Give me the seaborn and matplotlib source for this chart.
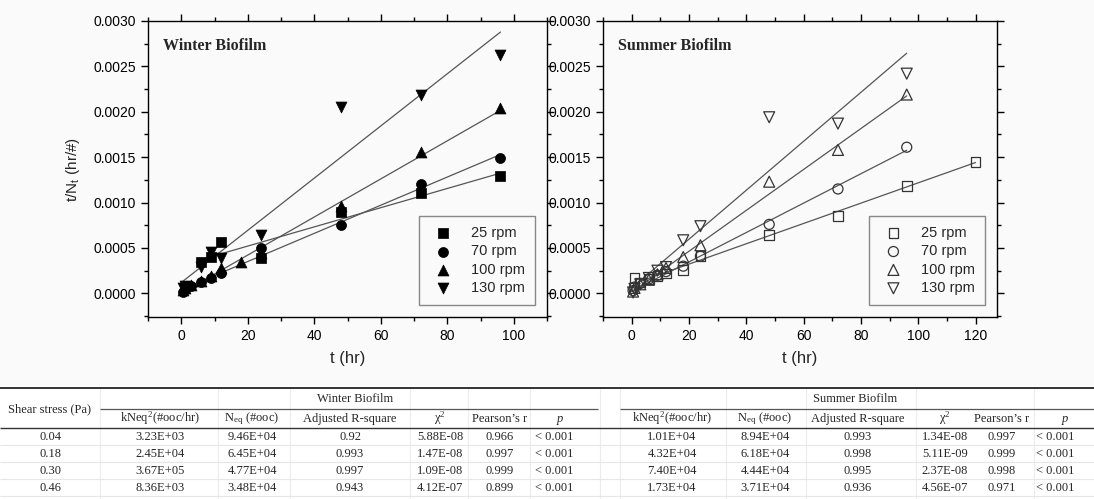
import numpy as np
import matplotlib
matplotlib.use("Agg")
import matplotlib.pyplot as plt
from matplotlib.ticker import MultipleLocator, FormatStrFormatter
import seaborn as sns

# --- data ------------------------------------------------------------
rpm_labels = ["25 rpm", "70 rpm", "100 rpm", "130 rpm"]
markers = ["s", "o", "^", "v"]
marker_sizes = [48, 52, 62, 62]

# winter biofilm, t (hr) and t/Nt (hr/#)
t_w25 = [6, 9, 12, 24, 48, 72, 96]
y_w25 = [3.45e-4, 4.0e-4, 5.7e-4, 3.9e-4, 9.0e-4, 1.11e-3, 1.29e-3]
t_w70 = [0.5, 1, 3, 6, 9, 12, 24, 48, 72, 96]
y_w70 = [2e-5, 5e-5, 8e-5, 1.2e-4, 1.7e-4, 2.2e-4, 5.0e-4, 7.5e-4, 1.2e-3, 1.49e-3]
t_w100 = [0.5, 1, 3, 6, 9, 12, 18, 24, 48, 72, 96]
y_w100 = [4e-5, 6e-5, 9e-5, 1.4e-4, 1.9e-4, 2.8e-4, 3.5e-4, 4.4e-4, 9.6e-4, 1.56e-3, 2.04e-3]
t_w130 = [0.5, 1, 6, 9, 12, 24, 48, 72, 96]
y_w130 = [6e-5, 8e-5, 2.9e-4, 4.6e-4, 3.9e-4, 6.4e-4, 2.05e-3, 2.19e-3, 2.63e-3]

# summer biofilm
t_s25 = [1, 3, 6, 9, 12, 18, 24, 48, 72, 96, 120]
y_s25 = [1.7e-4, 1.2e-4, 1.6e-4, 1.9e-4, 2.2e-4, 2.6e-4, 4.1e-4, 6.4e-4, 8.5e-4, 1.18e-3, 1.45e-3]
t_s70 = [0.5, 1, 3, 6, 9, 12, 18, 24, 48, 72, 96]
y_s70 = [3e-5, 7e-5, 1.1e-4, 1.6e-4, 2.0e-4, 2.4e-4, 3.0e-4, 4.1e-4, 7.6e-4, 1.15e-3, 1.61e-3]
t_s100 = [0.5, 1, 3, 6, 9, 12, 18, 24, 48, 72, 96]
y_s100 = [2e-5, 6e-5, 1.0e-4, 1.5e-4, 2.1e-4, 2.8e-4, 4.0e-4, 5.3e-4, 1.23e-3, 1.58e-3, 2.19e-3]
t_s130 = [0.5, 1, 3, 6, 9, 12, 18, 24, 48, 72, 96]
y_s130 = [1e-5, 5e-5, 1.0e-4, 1.7e-4, 2.5e-4, 2.9e-4, 5.85e-4, 7.4e-4, 1.94e-3, 1.87e-3, 2.42e-3]

# table values (fit parameters)
shear = ["0.04", "0.18", "0.30", "0.46"]
w_kneq2 = [3.23e3, 2.45e4, 3.67e5, 8.36e3]
w_neq = [9.46e4, 6.45e4, 4.77e4, 3.48e4]
w_adjr2 = ["0.92", "0.993", "0.997", "0.943"]
w_chi2 = [5.88e-8, 1.47e-8, 1.09e-8, 4.12e-7]
w_pearson = ["0.966", "0.997", "0.999", "0.899"]
s_kneq2 = [1.01e4, 4.32e4, 7.40e4, 1.73e4]
s_neq = [8.94e4, 6.18e4, 4.44e4, 3.71e4]
s_adjr2 = ["0.993", "0.998", "0.995", "0.936"]
s_chi2 = [1.34e-8, 5.11e-9, 2.37e-8, 4.56e-7]
s_pearson = ["0.997", "0.999", "0.998", "0.971"]
p_text = "< 0.001"

winter = [(t_w25, y_w25), (t_w70, y_w70), (t_w100, y_w100), (t_w130, y_w130)]
summer = [(t_s25, y_s25), (t_s70, y_s70), (t_s100, y_s100), (t_s130, y_s130)]

# --- figure ----------------------------------------------------------
sns.set_style("ticks")
plt.rcParams["font.family"] = ["Liberation Sans", "DejaVu Sans"]
plt.rcParams["mathtext.fontset"] = "stix"

W, H = 1094, 499
fig = plt.figure(figsize=(W / 100, H / 100), dpi=100, facecolor="#fafafa")

ax_w = fig.add_axes([148 / W, 1 - 317 / H, 399 / W, 296 / H])
ax_s = fig.add_axes([603 / W, 1 - 317 / H, 394 / W, 296 / H])


def draw_panel(ax, series, kneq2, neq, hollow, title, xmax, xticks_max):
    for (t, y), k, n, lab, m, s in zip(series, kneq2, neq, rpm_labels, markers, marker_sizes):
        tt = np.array([min(t), max(t)])
        # fitted line: t/Nt = 1/(k Neq^2) + t/Neq
        sns.lineplot(x=tt, y=tt / n + 1.0 / k, ax=ax, color="#555555", lw=0.9, zorder=2)
        if hollow:
            sns.scatterplot(x=t, y=y, ax=ax, marker=m, s=s, facecolor="none",
                            edgecolor="#333333", linewidth=0.9, label=lab, zorder=3)
        else:
            sns.scatterplot(x=t, y=y, ax=ax, marker=m, s=s, color="black",
                            edgecolor="black", linewidth=0.5, label=lab, zorder=3)
    ax.set_facecolor("#fafafa")
    ax.set_xlim(-10, xmax)
    ax.set_ylim(-0.00026, 0.0030)
    ax.xaxis.set_major_locator(MultipleLocator(20))
    ax.xaxis.set_minor_locator(MultipleLocator(10))
    ax.yaxis.set_major_locator(MultipleLocator(0.0005))
    ax.yaxis.set_minor_locator(MultipleLocator(0.00025))
    ax.yaxis.set_major_formatter(FormatStrFormatter("%.4f"))
    ax.set_xticks(np.arange(0, xticks_max + 1, 20))
    ax.tick_params(which="both", direction="out", top=True, right=True,
                   labelsize=10, width=1.0, colors="black")
    ax.tick_params(which="major", length=5)
    ax.tick_params(which="minor", length=3)
    for sp in ax.spines.values():
        sp.set_visible(True)
        sp.set_linewidth(1.0)
        sp.set_color("black")
    ax.set_xlabel("t (hr)", fontsize=12, labelpad=6)
    ax.set_ylabel("")
    ax.text(0.038, 0.915, title, transform=ax.transAxes, fontsize=11.5,
            fontweight="bold", family="Liberation Serif", va="center", ha="left")
    leg = ax.legend(loc="lower right", fontsize=10.5, frameon=True, fancybox=False,
                    edgecolor="#888888", framealpha=1, facecolor="#fafafa",
                    labelspacing=0.3, handletextpad=0.9, borderpad=0.7,
                    borderaxespad=0.8)
    leg.get_frame().set_linewidth(1.0)


draw_panel(ax_w, winter, w_kneq2, w_neq, False, "Winter Biofilm", 110, 100)
draw_panel(ax_s, summer, s_kneq2, s_neq, True, "Summer Biofilm", 127.5, 120)
ax_w.set_ylabel(r"t/N$_\mathregular{t}$ (hr/#)", fontsize=11, labelpad=8)

# --- table -----------------------------------------------------------
ax_t = fig.add_axes([0, 0, 1, (H - 386) / H])
ax_t.set_xlim(0, W)
ax_t.set_ylim(H, 386)
ax_t.set_facecolor("white")
for sp in ax_t.spines.values():
    sp.set_visible(False)
ax_t.set_xticks([])
ax_t.set_yticks([])

serif = "Liberation Serif"
fs = 9

# faint spreadsheet grid
for xv in [100, 218, 290, 410, 468, 530, 600, 620, 726, 806, 916, 1034]:
    ax_t.vlines(xv, 388, 499, color="#ececec", lw=0.8)
for yv in [445, 462, 479, 496]:
    ax_t.hlines(yv, 0, W, color="#e6e6e6", lw=0.8)

ax_t.hlines(388, 0, W, color="#222222", lw=1.3)
ax_t.hlines(409, 100, 598, color="#555555", lw=0.9)
ax_t.hlines(409, 620, W, color="#555555", lw=0.9)
ax_t.hlines(428, 0, W, color="#333333", lw=1.0)

ax_t.text(50, 409, "Shear stress (Pa)", family=serif, fontsize=fs, ha="center", va="center",
          bbox=dict(facecolor="white", edgecolor="none", pad=1))
ax_t.text(355, 399, "Winter Biofilm", family=serif, fontsize=fs, ha="center", va="center")
ax_t.text(855, 399, "Summer Biofilm", family=serif, fontsize=fs, ha="center", va="center")

headers = [r"kNeq$^\mathregular{2}$(#ooc/hr)", r"N$_\mathregular{eq}$ (#ooc)",
           "Adjusted R-square", r"$\mathregular{\chi}^\mathregular{2}$", "Pearson\u2019s r"]
w_cols = [160, 252, 350, 440, 500]
s_cols = [672, 765, 858, 945, 1002]
for h, xw, xs in zip(headers, w_cols, s_cols):
    ax_t.text(xw, 419, h, family=serif, fontsize=fs, ha="center", va="center")
    ax_t.text(xs, 419, h, family=serif, fontsize=fs, ha="center", va="center")
ax_t.text(560, 419, "p", family=serif, fontsize=fs, ha="center", va="center", style="italic")
ax_t.text(1065, 419, "p", family=serif, fontsize=fs, ha="center", va="center", style="italic")

row_y = [437, 454, 471, 488]
for i, yv in enumerate(row_y):
    ax_t.text(50, yv, shear[i], family=serif, fontsize=fs, ha="center", va="center")
    w_vals = ["%.2E" % w_kneq2[i], "%.2E" % w_neq[i], w_adjr2[i], "%.2E" % w_chi2[i], w_pearson[i]]
    s_vals = ["%.2E" % s_kneq2[i], "%.2E" % s_neq[i], s_adjr2[i], "%.2E" % s_chi2[i], s_pearson[i]]
    for v, xw in zip(w_vals, w_cols):
        ax_t.text(xw, yv, v, family=serif, fontsize=fs, ha="center", va="center")
    for v, xs in zip(s_vals, s_cols):
        ax_t.text(xs, yv, v, family=serif, fontsize=fs, ha="center", va="center")
    ax_t.text(535, yv, p_text, family=serif, fontsize=fs, ha="left", va="center")
    ax_t.text(1036, yv, p_text, family=serif, fontsize=fs, ha="left", va="center")

fig.savefig("out.png", dpi=100, facecolor=fig.get_facecolor())
